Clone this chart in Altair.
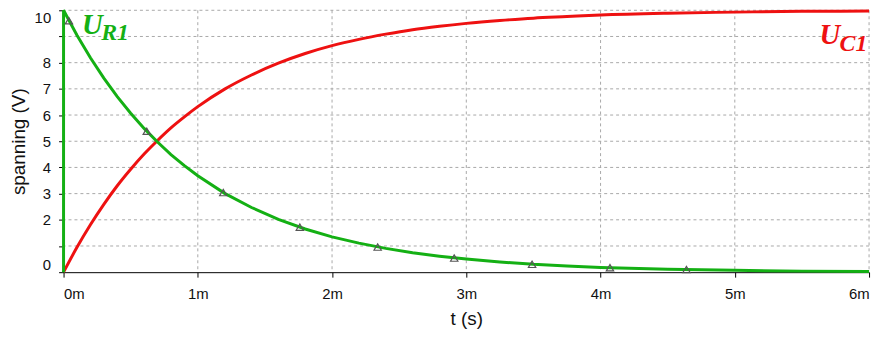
import altair as alt
import pandas as pd

# Readings from the picture (t in ms, voltages in V)
t_vals = [0.0, 0.1, 0.2, 0.3, 0.4, 0.5, 0.6, 0.7, 0.8, 0.9, 1.0, 1.2, 1.4, 1.6, 1.8,
          2.0, 2.2, 2.4, 2.6, 2.8, 3.0, 3.25, 3.5, 3.75, 4.0, 4.5, 5.0, 5.5, 6.0]
u_c1 = [0.0, 0.95, 1.81, 2.59, 3.30, 3.93, 4.51, 5.03, 5.51, 5.93, 6.32, 6.99, 7.53, 7.98, 8.35,
        8.65, 8.89, 9.09, 9.26, 9.39, 9.50, 9.61, 9.70, 9.76, 9.82, 9.89, 9.93, 9.96, 9.97]
u_r1 = [10.0, 9.05, 8.19, 7.41, 6.70, 6.07, 5.49, 4.97, 4.49, 4.07, 3.68, 3.01, 2.47, 2.02, 1.65,
        1.35, 1.11, 0.91, 0.74, 0.61, 0.50, 0.39, 0.30, 0.24, 0.18, 0.11, 0.07, 0.04, 0.03]

# marker triangles on U_R1
mark_t = [0.04, 0.62, 1.19, 1.76, 2.34, 2.91, 3.49, 4.07, 4.64]
mark_v = [9.6, 5.38, 3.04, 1.72, 0.96, 0.54, 0.30, 0.17, 0.10]

x_ticks = [0, 1, 2, 3, 4, 5, 6]
y_ticks = [0, 1, 2, 3, 4, 5, 6, 7, 8, 9, 10]

GREEN = "#14b014"
RED = "#ee1111"
GRID = "#a8a8a8"

red_df = pd.DataFrame({"t": t_vals, "v": u_c1, "o": list(range(len(t_vals)))})
# green starts with the vertical step at t=0
green_df = pd.DataFrame({"t": [0.0] + t_vals, "v": [0.0] + u_r1,
                         "o": list(range(len(t_vals) + 1))})
marks_df = pd.DataFrame({"t": mark_t, "v": mark_v})
xgrid_df = pd.DataFrame({"t": x_ticks[1:]})
ygrid_df = pd.DataFrame({"v": y_ticks[1:]})

ann_df = pd.DataFrame({
    "t": [0.137, 0.28, 5.63, 5.78],
    "v": [9.09, 8.85, 8.71, 8.45],
    "txt": ["U", "R1", "U", "C1"],
    "kind": ["big", "sub", "big", "sub"],
    "series": ["g", "g", "r", "r"],
})

xs = alt.Scale(domain=[0, 6], nice=False, zero=False)
ys = alt.Scale(domain=[0, 10], nice=False)

x_axis = alt.Axis(values=x_ticks, tickCount=40, format="d",
                  labelExpr="datum.value + 'm'", title="t (s)",
                  grid=False, labelFlush=True,
                  domainColor="#000", tickColor="#000", tickSize=5, labelPadding=10,
                  labelFontSize=15, titleFontSize=19, titleFontWeight="normal",
                  labelColor="#111", titleColor="#111", titlePadding=8,
                  labelFont="Liberation Sans", titleFont="Liberation Sans",
                  labelOverlap=False)
y_axis = alt.Axis(values=y_ticks, tickCount=40, format="d",
                  labelExpr="datum.value == 1 || datum.value == 9 ? '' : datum.label",
                  title="spanning (V)", grid=False,
                  labelFlush=True, domainColor="#000", tickColor="#000", tickSize=5,
                  labelPadding=8, labelFontSize=15, titleFontSize=19,
                  titleFontWeight="normal", labelColor="#111", titleColor="#111",
                  titlePadding=6, labelFont="Liberation Sans", titleFont="Liberation Sans",
                  labelOverlap=False)

X = alt.X("t:Q", scale=xs, axis=x_axis)
Y = alt.Y("v:Q", scale=ys, axis=y_axis)

xgrid = alt.Chart(xgrid_df).mark_rule(color=GRID, strokeDash=[3, 3], strokeWidth=1).encode(x=X)
ygrid = alt.Chart(ygrid_df).mark_rule(color=GRID, strokeDash=[3, 3], strokeWidth=1).encode(y=Y)

red = alt.Chart(red_df).mark_line(color=RED, strokeWidth=3, interpolate="monotone").encode(
    x=X, y=Y, order="o:Q",
)
green = alt.Chart(green_df).mark_line(color=GREEN, strokeWidth=3).encode(
    x=X, y=Y, order="o:Q",
)
tri = alt.Chart(marks_df).mark_point(shape="triangle-up", filled=False, stroke="#555",
                                     strokeWidth=1.2, size=55, opacity=1).encode(x=X, y=Y)

def ann(kind, series, size):
    col = GREEN if series == "g" else RED
    d = ann_df[(ann_df.kind == kind) & (ann_df.series == series)]
    return alt.Chart(d).mark_text(align="left", baseline="alphabetic", font="Liberation Serif",
                                  fontStyle="italic", fontWeight="bold", fontSize=size,
                                  color=col).encode(x=X, y=Y, text="txt:N")

chart = alt.layer(
    xgrid, ygrid, red, green, tri,
    ann("big", "g", 29), ann("sub", "g", 24),
    ann("big", "r", 29), ann("sub", "r", 24),
).properties(
    width=812, height=264,
    autosize=alt.AutoSizeParams(type="none"),
    padding={"left": 56, "top": 1, "right": 8, "bottom": 60},
).configure_view(stroke=None)

chart.save("out.html", embed_options={"renderer": "svg", "actions": False})
